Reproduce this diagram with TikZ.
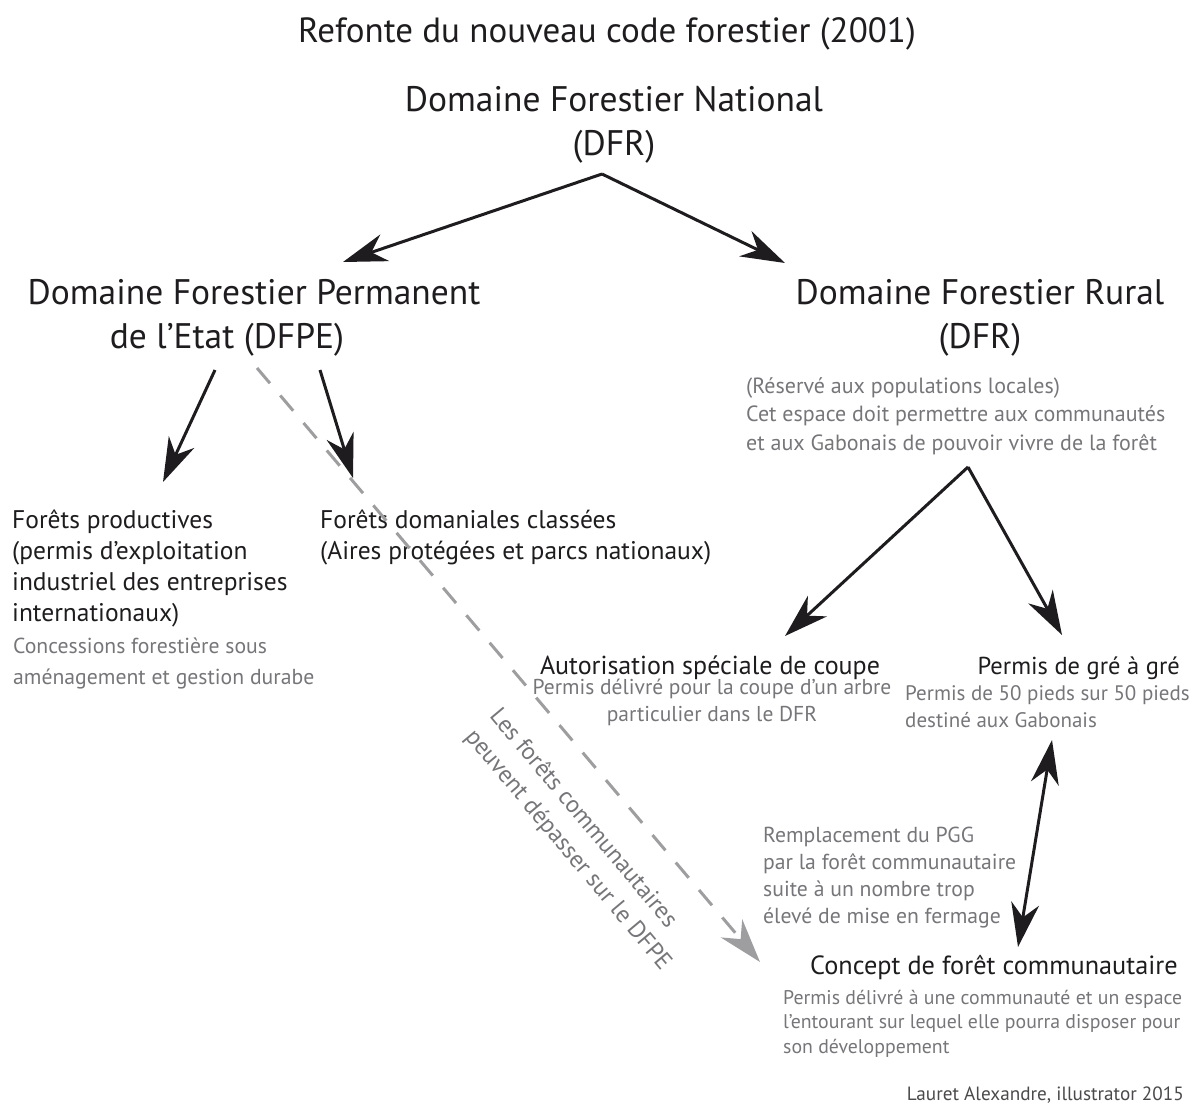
\documentclass[tikz,border=0pt]{standalone}
\usepackage{fontspec}
\setmainfont{PT Sans}
\usetikzlibrary{
  arrows.meta,
  positioning
}
\definecolor{encre}{RGB}{30,28,30}
\definecolor{gristexte}{RGB}{118,118,122}
\definecolor{grisfleche}{RGB}{158,158,160}

\tikzset{
  titre/.style={font=\fontsize{35}{40}\selectfont, text=encre, inner sep=0pt},
  domaine/.style={font=\fontsize{35.5}{44}\selectfont, text=encre, align=center, inner sep=0pt},
  foret/.style={font=\fontsize{25.5}{31}\selectfont, text=encre, align=left, inner sep=0pt},
  note/.style 2 args={font=\fontsize{#1}{#2}\selectfont, text=gristexte, align=left, inner sep=0pt},
  fleche/.style={line width=3pt, draw=encre, -{Stealth[length=44pt, width=28pt, inset=14pt]}},
  doublefleche/.style={line width=3pt, draw=encre,
    {Stealth[length=44pt, width=28pt, inset=14pt]}-{Stealth[length=44pt, width=28pt, inset=14pt]}},
  pointille/.style={line width=3pt, draw=grisfleche, dash pattern=on 20pt off 16pt,
    -{Stealth[length=44pt, width=28pt, inset=14pt, fill=grisfleche]}}
}

\begin{document}
\begin{tikzpicture}[x=1pt, y=-1pt]
  \useasboundingbox (0,0) rectangle (1196,1109);

  % Titre
  \node[titre, anchor=base] (titre) at (607,42) {Refonte du nouveau code forestier (2001)};

  % Domaines (base = derniere ligne)
  \node[domaine, anchor=base] (dfn) at (614,155) {Domaine Forestier National\\(DFR)};
  \node[domaine, anchor=base] (dfpe) at (254,348) {Domaine Forestier Permanent\\de l’Etat (DFPE)\hspace*{54pt}};
  \node[domaine, anchor=base] (dfr) at (980,348) {Domaine Forestier Rural\\(DFR)};
  \node[note={22}{28.5}, anchor=base west] (reserve) at (746,450)
    {(Réservé aux populations locales)\\Cet espace doit permettre aux communautés\\et aux Gabonais de pouvoir vivre de la forêt};

  % Forets du DFPE
  \node[foret, anchor=base west] (productives) at (12,621)
    {Forêts productives\\(permis d’exploitation\\industriel des entreprises\\internationaux)};
  \node[note={21.7}{31}, anchor=base west] (concessions) at (13,684)
    {Concessions forestière sous\\aménagement et gestion durabe};
  \node[foret, anchor=base west] (domaniales) at (320,559)
    {Forêts domaniales classées\\(Aires protégées et parcs nationaux)};

  % Permis du DFR
  \node[foret, font=\fontsize{26}{31}\selectfont, anchor=base] (autorisation) at (710,674)
    {Autorisation spéciale de coupe};
  \node[note={21.5}{27}, align=center, anchor=base] (autonote) at (712,721)
    {Permis délivré pour la coupe d’un arbre\\particulier dans le DFR};
  \node[foret, font=\fontsize{24.5}{31}\selectfont, anchor=base east] (gre) at (1180,674)
    {Permis de gré à gré};
  \node[note={21}{27}, anchor=base west] (grenote) at (905,727)
    {Permis de 50 pieds sur 50 pieds\\destiné aux Gabonais};
  \node[note={21.7}{27}, anchor=base west] (remplacement) at (763,923)
    {Remplacement du PGG\\par la forêt communautaire\\suite à un nombre trop\\élevé de mise en fermage};
  \node[foret, font=\fontsize{26.3}{31}\selectfont, anchor=base west] (concept) at (810,974)
    {Concept de forêt communautaire};
  \node[note={19.8}{24.5}, anchor=base west] (conceptnote) at (783,1053)
    {Permis délivré à une communauté et un espace\\l’entourant sur lequel elle pourra disposer pour\\son développement};

  % Texte en biais
  \node[note={24.2}{32}, rotate=-50] (depasse) at (580,840)
    {Les forêts communautaires\\peuvent dépasser sur le DFPE};

  \node[note={19.2}{22}, text=encre!80, anchor=base east] (signature) at (1184,1100)
    {Lauret Alexandre, illustrator 2015};

  % Points de depart et d'arrivee
  \coordinate (nat) at (602,174);
  \coordinate (rur) at (968,467);
  \coordinate (versdfpe) at (343,262);
  \coordinate (versdfr) at (785,263);
  \coordinate (sousprod) at (215,370);
  \coordinate (versprod) at (163,482);
  \coordinate (sousdom) at (320,370);
  \coordinate (versdom) at (353,478);
  \coordinate (sousdfpe) at (257,368);
  \coordinate (versconceptgris) at (760,962);
  \coordinate (versauto) at (785,636);
  \coordinate (versgre) at (1062,635);
  \coordinate (hautgre) at (1052,740);
  \coordinate (versconcept) at (1018,947);

  % Fleches
  \draw[fleche] (nat) -- (versdfpe);
  \draw[fleche] (nat) -- (versdfr);
  \draw[fleche] (sousprod) -- (versprod);
  \draw[fleche] (sousdom) -- (versdom);
  \draw[pointille] (sousdfpe) -- (versconceptgris);
  \draw[fleche] (rur) -- (versauto);
  \draw[fleche] (rur) -- (versgre);
  \draw[doublefleche] (hautgre) -- (versconcept);
\end{tikzpicture}
\end{document}
